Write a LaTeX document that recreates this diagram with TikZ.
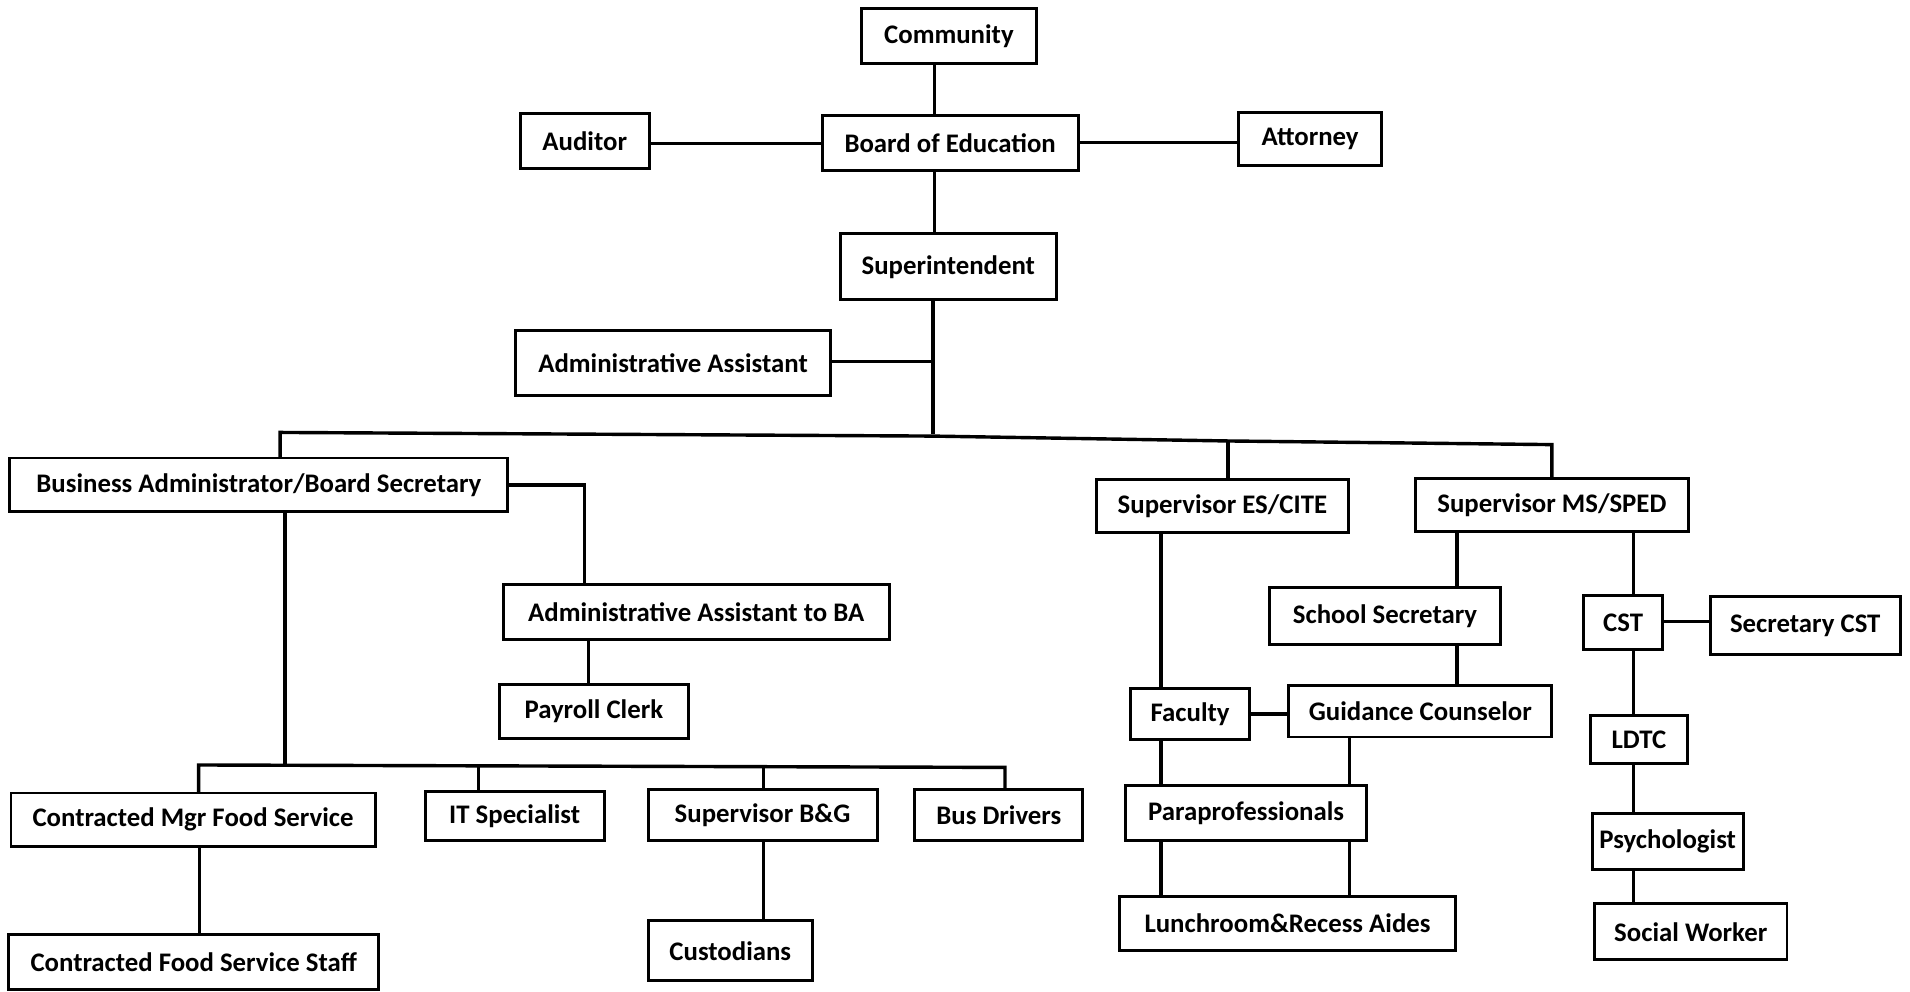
\documentclass[tikz,border=0pt]{standalone}
\usepackage{fontspec}
\setmainfont{Carlito}
\tikzset{
  box/.style={draw, line width=1.2pt, inner sep=0pt, outer sep=0pt,
    font=\fontsize{11}{13}\selectfont\bfseries, align=center},
  conn/.style={line width=1.4pt},
}
\newcommand{\obox}[6]{\node[box, minimum width={(#4-#2)*0.5pt}, minimum height={(#5-#3)*0.5pt}] (#1) at ({(#2+#4)/2},{(#3+#5)/2}) {#6};}
\begin{document}
\begin{tikzpicture}[x=0.5pt,y=-0.5pt]
\useasboundingbox[fill=white] (0,0) rectangle (1568,814);
\obox{comm}{707}{7}{851}{52}{Community}
\obox{aud}{427}{93}{533}{138}{Auditor}
\obox{boe}{675}{95}{885}{140}{Board of Education}
\obox{att}{1017}{92}{1134}{136}{Attorney}
\obox{sup}{690}{192}{867}{246}{Superintendent}
\obox{aa}{423}{271}{682}{325}{Administrative Assistant}
\obox{ba}{8}{376}{417}{420}{Business Administrator/Board Secretary}
\obox{sesc}{900}{394}{1107}{437}{Supervisor ES/CITE}
\obox{smsp}{1162}{393}{1386}{436}{Supervisor MS/SPED}
\obox{aaba}{413}{480}{730}{525}{Administrative Assistant to BA}
\obox{pay}{410}{562}{565}{606}{Payroll Clerk}
\obox{ss}{1042}{482}{1232}{529}{School Secretary}
\obox{cst}{1300}{489}{1365}{533}{CST}
\obox{sct}{1404}{490}{1560}{537}{Secretary CST}
\obox{fac}{928}{565}{1026}{607}{Faculty}
\obox{gc}{1058}{563}{1274}{605}{Guidance Counselor}
\obox{ldtc}{1306}{587}{1385}{627}{LDTC}
\obox{cmfs}{9}{651}{308}{695}{Contracted Mgr Food Service}
\obox{it}{349}{650}{496}{690}{IT Specialist}
\obox{sbg}{532}{648}{720}{690}{Supervisor B\&G}
\obox{bus}{751}{648}{889}{690}{Bus Drivers}
\obox{para}{924}{645}{1122}{690}{Paraprofessionals}
\obox{psy}{1307}{668}{1431}{714}{Psychologist}
\obox{cfss}{7}{767}{311}{812}{Contracted Food Service Staff}
\obox{cust}{532}{756}{667}{805}{Custodians}
\obox{lra}{919}{736}{1195}{780}{Lunchroom\&Recess Aides}
\obox{sw}{1309}{742}{1467}{788}{Social Worker}
\coordinate (hub) at (766,356);
\coordinate (aaj) at (766,297);
\coordinate (babus) at (234,628);
\draw[conn] (767,0 |- comm.south) -- (767,0 |- boe.north);
\draw[conn] (aud.east |- 0,118) -- (boe.west |- 0,118);
\draw[conn] (boe.east |- 0,117) -- (att.west |- 0,117);
\draw[conn] (767,0 |- boe.south) -- (767,0 |- sup.north);
\draw[conn] (766,0 |- sup.south) -- (hub);
\draw[conn] (aa.east |- aaj) -- (aaj);
\draw[conn] (230,0 |- ba.north) -- (230,355) -- (766,358) -- (1008,362) -- (1274,365) -- (1274,0 |- smsp.north);
\draw[conn] (1008,362) -- (1008,0 |- sesc.north);
\draw[conn] (ba.east |- 0,398) -- (480,398) -- (480,0 |- aaba.north);
\draw[conn] (234,0 |- ba.south) -- (babus);
\draw[conn] (163,0 |- cmfs.north) -- (163,628) -- (825,630) -- (825,0 |- bus.north);
\draw[conn] (393,628.7) -- (393,0 |- it.north);
\draw[conn] (627,629.4) -- (627,0 |- sbg.north);
\draw[conn] (483,0 |- aaba.south) -- (483,0 |- pay.north);
\draw[conn] (164,0 |- cmfs.south) -- (164,0 |- cfss.north);
\draw[conn] (627,0 |- sbg.south) -- (627,0 |- cust.north);
\draw[conn] (953,0 |- sesc.south) -- (953,0 |- fac.north);
\draw[conn] (1196,0 |- smsp.south) -- (1196,0 |- ss.north);
\draw[conn] (1196,0 |- ss.south) -- (1196,0 |- gc.north);
\draw[conn] (fac.east |- 0,586) -- (gc.west |- 0,586);
\draw[conn] (953,0 |- fac.south) -- (953,0 |- para.north);
\draw[conn] (1108,0 |- gc.south) -- (1108,0 |- para.north);
\draw[conn] (953,0 |- para.south) -- (953,0 |- lra.north);
\draw[conn] (1108,0 |- para.south) -- (1108,0 |- lra.north);
\draw[conn] (1341,0 |- smsp.south) -- (1341,0 |- cst.north);
\draw[conn] (cst.east |- 0,510) -- (sct.west |- 0,510);
\draw[conn] (1341,0 |- cst.south) -- (1341,0 |- ldtc.north);
\draw[conn] (1341,0 |- ldtc.south) -- (1341,0 |- psy.north);
\draw[conn] (1341,0 |- psy.south) -- (1341,0 |- sw.north);
\end{tikzpicture}
\end{document}
